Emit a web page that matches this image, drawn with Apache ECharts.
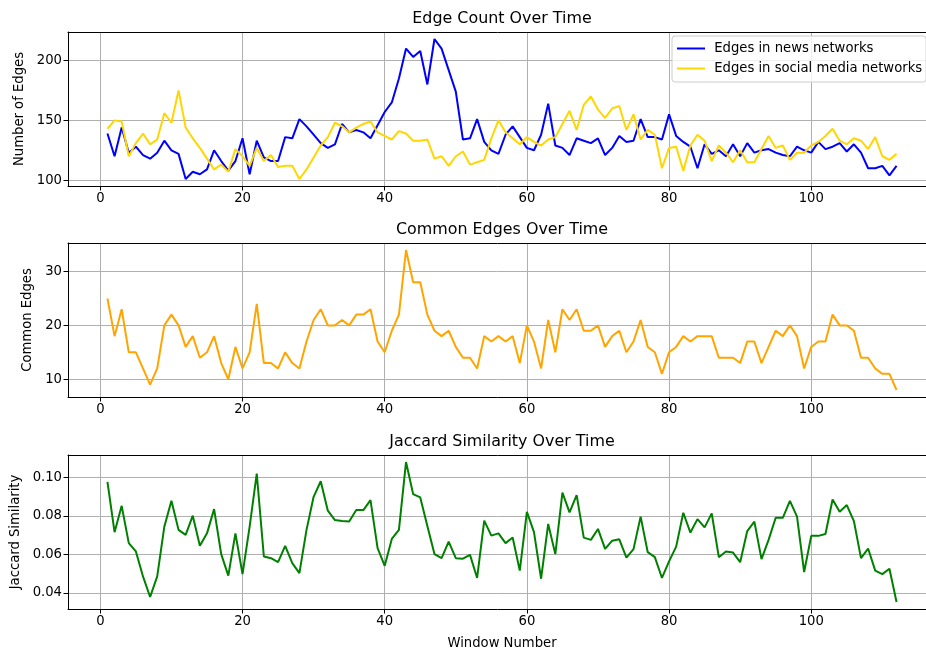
<!DOCTYPE html>
<html>
<head>
<meta charset="utf-8">
<script src="https://cdn.jsdelivr.net/npm/echarts@6/dist/echarts.min.js"></script>
<style>
  html, body { margin: 0; padding: 0; background: #fff; }
  #chart { width: 926px; height: 652px; }
</style>
</head>
<body>
<div id="chart"></div>
<script>
// values, one per window (1..112)
const newsEdges = [
  139, 120, 144, 123, 128, 121, 118, 123, 133, 125,
  122, 101, 107, 105, 109, 125, 116, 108, 116, 135,
  105, 133, 119, 116, 116, 136, 135, 151, 145, 138,
  131, 127, 130, 147, 140, 142, 140, 135, 146, 157,
  165, 185, 210, 203, 208, 180, 218, 210, 192, 174,
  134, 135, 151, 132, 125, 122, 138, 145, 136, 127,
  125, 138, 164, 129, 127, 121, 135, 133, 131, 135,
  121, 127, 137, 132, 133, 151, 136, 136, 134, 155,
  137, 132, 128, 110, 130, 122, 125, 120, 130, 120,
  131, 123, 125, 126, 123, 121, 120, 128, 125, 123,
  132, 126, 128, 131, 124, 130, 123, 110, 110, 112, 104, 112
];
const socialEdges = [
  143, 150, 149, 120, 131, 139, 130, 134, 156, 148,
  175, 144, 135, 127, 118, 109, 113, 107, 126, 120,
  112, 127, 116, 121, 111, 112, 112, 101, 109, 119,
  129, 136, 148, 145, 140, 144, 147, 149, 140, 137,
  134, 141, 139, 133, 133, 134, 118, 120, 112, 120,
  124, 113, 115, 117, 135, 150, 140, 135, 130, 136,
  132, 129, 134, 136, 147, 158, 142, 163, 170, 159,
  152, 160, 162, 142, 155, 134, 142, 138, 110, 127,
  128, 108, 129, 138, 133, 116, 129, 123, 115, 125,
  115, 115, 126, 137, 127, 129, 117, 123, 123, 129,
  132, 137, 143, 133, 130, 135, 133, 126, 136, 120, 117, 122
];
const commonEdges = [
  25, 18, 23, 15, 15, 12, 9, 12, 20, 22,
  20, 16, 18, 14, 15, 18, 13, 10, 16, 12,
  15, 24, 13, 13, 12, 15, 13, 12, 17, 21,
  23, 20, 20, 21, 20, 22, 22, 23, 17, 15,
  19, 22, 34, 28, 28, 22, 19, 18, 19, 16,
  14, 14, 12, 18, 17, 18, 17, 18, 13, 20,
  17, 12, 21, 15, 23, 21, 23, 19, 19, 20,
  16, 18, 19, 15, 17, 21, 16, 15, 11, 15,
  16, 18, 17, 18, 18, 18, 14, 14, 14, 13,
  17, 17, 13, 16, 19, 18, 20, 18, 12, 16,
  17, 17, 22, 20, 20, 19, 14, 14, 12, 11, 11, 8
];
const jaccard = [
  0.0978, 0.0716, 0.0853, 0.0659, 0.0616, 0.0486, 0.0379, 0.0486, 0.0745, 0.0879,
  0.0728, 0.0702, 0.0802, 0.0645, 0.0710, 0.0836, 0.0602, 0.0490, 0.0710, 0.0498,
  0.0745, 0.1021, 0.0590, 0.0581, 0.0560, 0.0645, 0.0555, 0.0503, 0.0728, 0.0900,
  0.0981, 0.0828, 0.0779, 0.0774, 0.0772, 0.0831, 0.0831, 0.0883, 0.0633, 0.0541,
  0.0681, 0.0728, 0.1081, 0.0914, 0.0897, 0.0748, 0.0602, 0.0581, 0.0667, 0.0581,
  0.0578, 0.0598, 0.0478, 0.0776, 0.0698, 0.0710, 0.0659, 0.0688, 0.0516, 0.0822,
  0.0716, 0.0474, 0.0759, 0.0602, 0.0922, 0.0819, 0.0909, 0.0688, 0.0676, 0.0733,
  0.0629, 0.0672, 0.0679, 0.0584, 0.0628, 0.0797, 0.0612, 0.0586, 0.0478, 0.0564,
  0.0641, 0.0817, 0.0714, 0.0784, 0.0741, 0.0814, 0.0586, 0.0616, 0.0610, 0.0560,
  0.0722, 0.0771, 0.0576, 0.0676, 0.0791, 0.0791, 0.0879, 0.0797, 0.0509, 0.0697,
  0.0697, 0.0707, 0.0886, 0.0822, 0.0857, 0.0774, 0.0581, 0.0631, 0.0516, 0.0498, 0.0526, 0.0353
];

const xTicks = [0, 20, 40, 60, 80, 100];
const edgeTicks = [100, 150, 200];
const commonTicks = [10, 20, 30];
const jaccardTicks = [0.04, 0.06, 0.08, 0.10];

const windows = newsEdges.map((_, i) => i + 1);
const pairs = (vals) => vals.map((v, i) => [windows[i], v]);

// matplotlib style 5% margins
function pad(vals) {
    const lo = Math.min(...vals), hi = Math.max(...vals);
    const m = (hi - lo) * 0.05;
    return [lo - m, hi + m];
}
const xRange = pad(windows);
const edgeRange = pad(newsEdges.concat(socialEdges));
const commonRange = pad(commonEdges);
const jaccardRange = pad(jaccard);

const FONT = 'DejaVu Sans';
const tickText = { color: '#000', fontFamily: FONT, fontSize: 13.2 };
const spine = { show: true, onZero: false, lineStyle: { color: '#000', width: 1 } };

function xAxisFor(gridIndex, name) {
    return {
        type: 'value',
        gridIndex: gridIndex,
        min: xRange[0],
        max: xRange[1],
        name: name || '',
        nameLocation: 'middle',
        nameGap: 28,
        nameTextStyle: tickText,
        axisLine: spine,
        axisTick: { show: true, length: 4.5, customValues: xTicks, lineStyle: { color: '#000', width: 1 } },
        axisLabel: { show: true, margin: 6, customValues: xTicks, ...tickText },
        splitLine: { show: true, customValues: xTicks, lineStyle: { color: '#b0b0b0', width: 1 } }
    };
}

// bare axis on top, only its line, standing in for the top spine
function topSpine(gridIndex) {
    return {
        type: 'value',
        gridIndex: gridIndex,
        position: 'top',
        min: xRange[0],
        max: xRange[1],
        axisLine: spine,
        axisTick: { show: false },
        axisLabel: { show: false },
        splitLine: { show: false }
    };
}

function yAxisFor(gridIndex, range, ticks, name, gap, fmt) {
    return {
        type: 'value',
        gridIndex: gridIndex,
        min: range[0],
        max: range[1],
        name: name,
        nameLocation: 'middle',
        nameGap: gap,
        nameTextStyle: tickText,
        axisLine: spine,
        axisTick: { show: true, length: 4.5, customValues: ticks, lineStyle: { color: '#000', width: 1 } },
        axisLabel: { show: true, margin: 6, customValues: ticks, formatter: fmt, ...tickText },
        splitLine: { show: true, customValues: ticks, lineStyle: { color: '#b0b0b0', width: 1 } }
    };
}

function lineSeries(name, data, color, xi) {
    return {
        name: name,
        type: 'line',
        xAxisIndex: xi,
        yAxisIndex: xi,
        data: pairs(data),
        showSymbol: false,
        symbol: 'none',
        lineStyle: { color: color, width: 2 },
        itemStyle: { color: color },
        emphasis: { disabled: true }
    };
}

// right edge of the axes sits just past the picture, as in the source figure
const gridBox = { show: false, left: 68, right: -10, height: 154, outerBoundsMode: 'none' };
const titleText = { color: '#000', fontFamily: FONT, fontSize: 15.9, fontWeight: 'normal' };

const chart = echarts.init(document.getElementById('chart'));
chart.setOption({
    animation: false,
    backgroundColor: '#fff',
    title: [
        { text: 'Edge Count Over Time', left: 502, top: 11, textAlign: 'center', textStyle: titleText, padding: 0 },
        { text: 'Common Edges Over Time', left: 502, top: 222, textAlign: 'center', textStyle: titleText, padding: 0 },
        { text: 'Jaccard Similarity Over Time', left: 502, top: 434, textAlign: 'center', textStyle: titleText, padding: 0 }
    ],
    legend: {
        data: ['Edges in news networks', 'Edges in social media networks'],
        orient: 'vertical',
        left: 672,
        top: 36,
        padding: [5, 4, 6, 5],
        itemGap: 5,
        itemWidth: 28,
        itemHeight: 2,
        icon: 'rect',
        borderColor: '#cccccc',
        borderWidth: 1,
        borderRadius: 3,
        backgroundColor: 'rgba(255,255,255,0.8)',
        formatter: (n) => ' ' + n,
        textStyle: { color: '#000', fontFamily: FONT, fontSize: 13.2, lineHeight: 15 }
    },
    grid: [
        { ...gridBox, top: 32 },
        { ...gridBox, top: 243 },
        { ...gridBox, top: 455 }
    ],
    xAxis: [
        xAxisFor(0), xAxisFor(1), xAxisFor(2, 'Window Number'),
        topSpine(0), topSpine(1), topSpine(2)
    ],
    yAxis: [
        yAxisFor(0, edgeRange, edgeTicks, 'Number of Edges', 38, (v) => String(v)),
        yAxisFor(1, commonRange, commonTicks, 'Common Edges', 30, (v) => String(v)),
        yAxisFor(2, jaccardRange, jaccardTicks, 'Jaccard Similarity', 42, (v) => v.toFixed(2))
    ],
    series: [
        lineSeries('Edges in news networks', newsEdges, '#0000ff', 0),
        lineSeries('Edges in social media networks', socialEdges, '#ffd700', 0),
        lineSeries('Common Edges', commonEdges, '#ffa500', 1),
        lineSeries('Jaccard Similarity', jaccard, '#008000', 2)
    ]
});
</script>
</body>
</html>
